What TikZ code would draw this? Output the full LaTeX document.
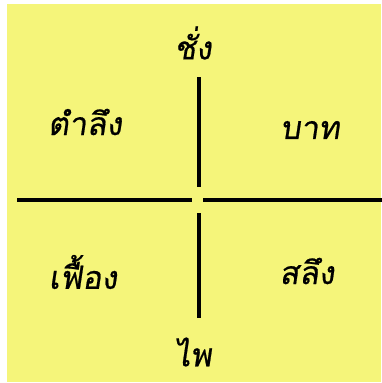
\documentclass[tikz,border=0pt]{standalone}
\usepackage{fontspec}
\usepackage{tikz}
\usetikzlibrary{positioning, calc}
\newfontfamily\thaifont[Script=Thai,FakeSlant=0.15,FakeBold=0.6]{Loma}
\definecolor{paperyellow}{RGB}{245,245,122}

\begin{document}
\begin{tikzpicture}[x=1pt, y=-1pt,
    unit/.style={font=\thaifont\fontsize{32}{34}\selectfont, text=black, inner sep=0pt},
    axis/.style={line width=3.2pt, black}
]
    \useasboundingbox (0,0) rectangle (382,383);
    \fill[paperyellow] (7,4) rectangle (381,382);

    \node[unit] (chang) at (193,43) {ชั่ง};
    \node[unit] (tamlueng) at (85,122) {ตำลึง};
    \node[unit] (baht) at (310,130) {บาท};
    \node[unit] (fueang) at (83,272) {เฟื้อง};
    \node[unit] (salueng) at (307,271) {สลึง};
    \node[unit] (phai) at (193,352) {ไพ};

    \coordinate (top) at (199,77);
    \coordinate (bottom) at (199,318);
    \coordinate (left) at (17,200);
    \coordinate (right) at (382,200);
    \coordinate (mid) at (199,200);

    \draw[axis] (top) -- ($(mid)+(0,-13)$);
    \draw[axis] ($(mid)+(0,13)$) -- (bottom);
    \draw[axis] (left) -- ($(mid)+(-7,0)$);
    \draw[axis] ($(mid)+(4,0)$) -- (right);
\end{tikzpicture}
\end{document}
